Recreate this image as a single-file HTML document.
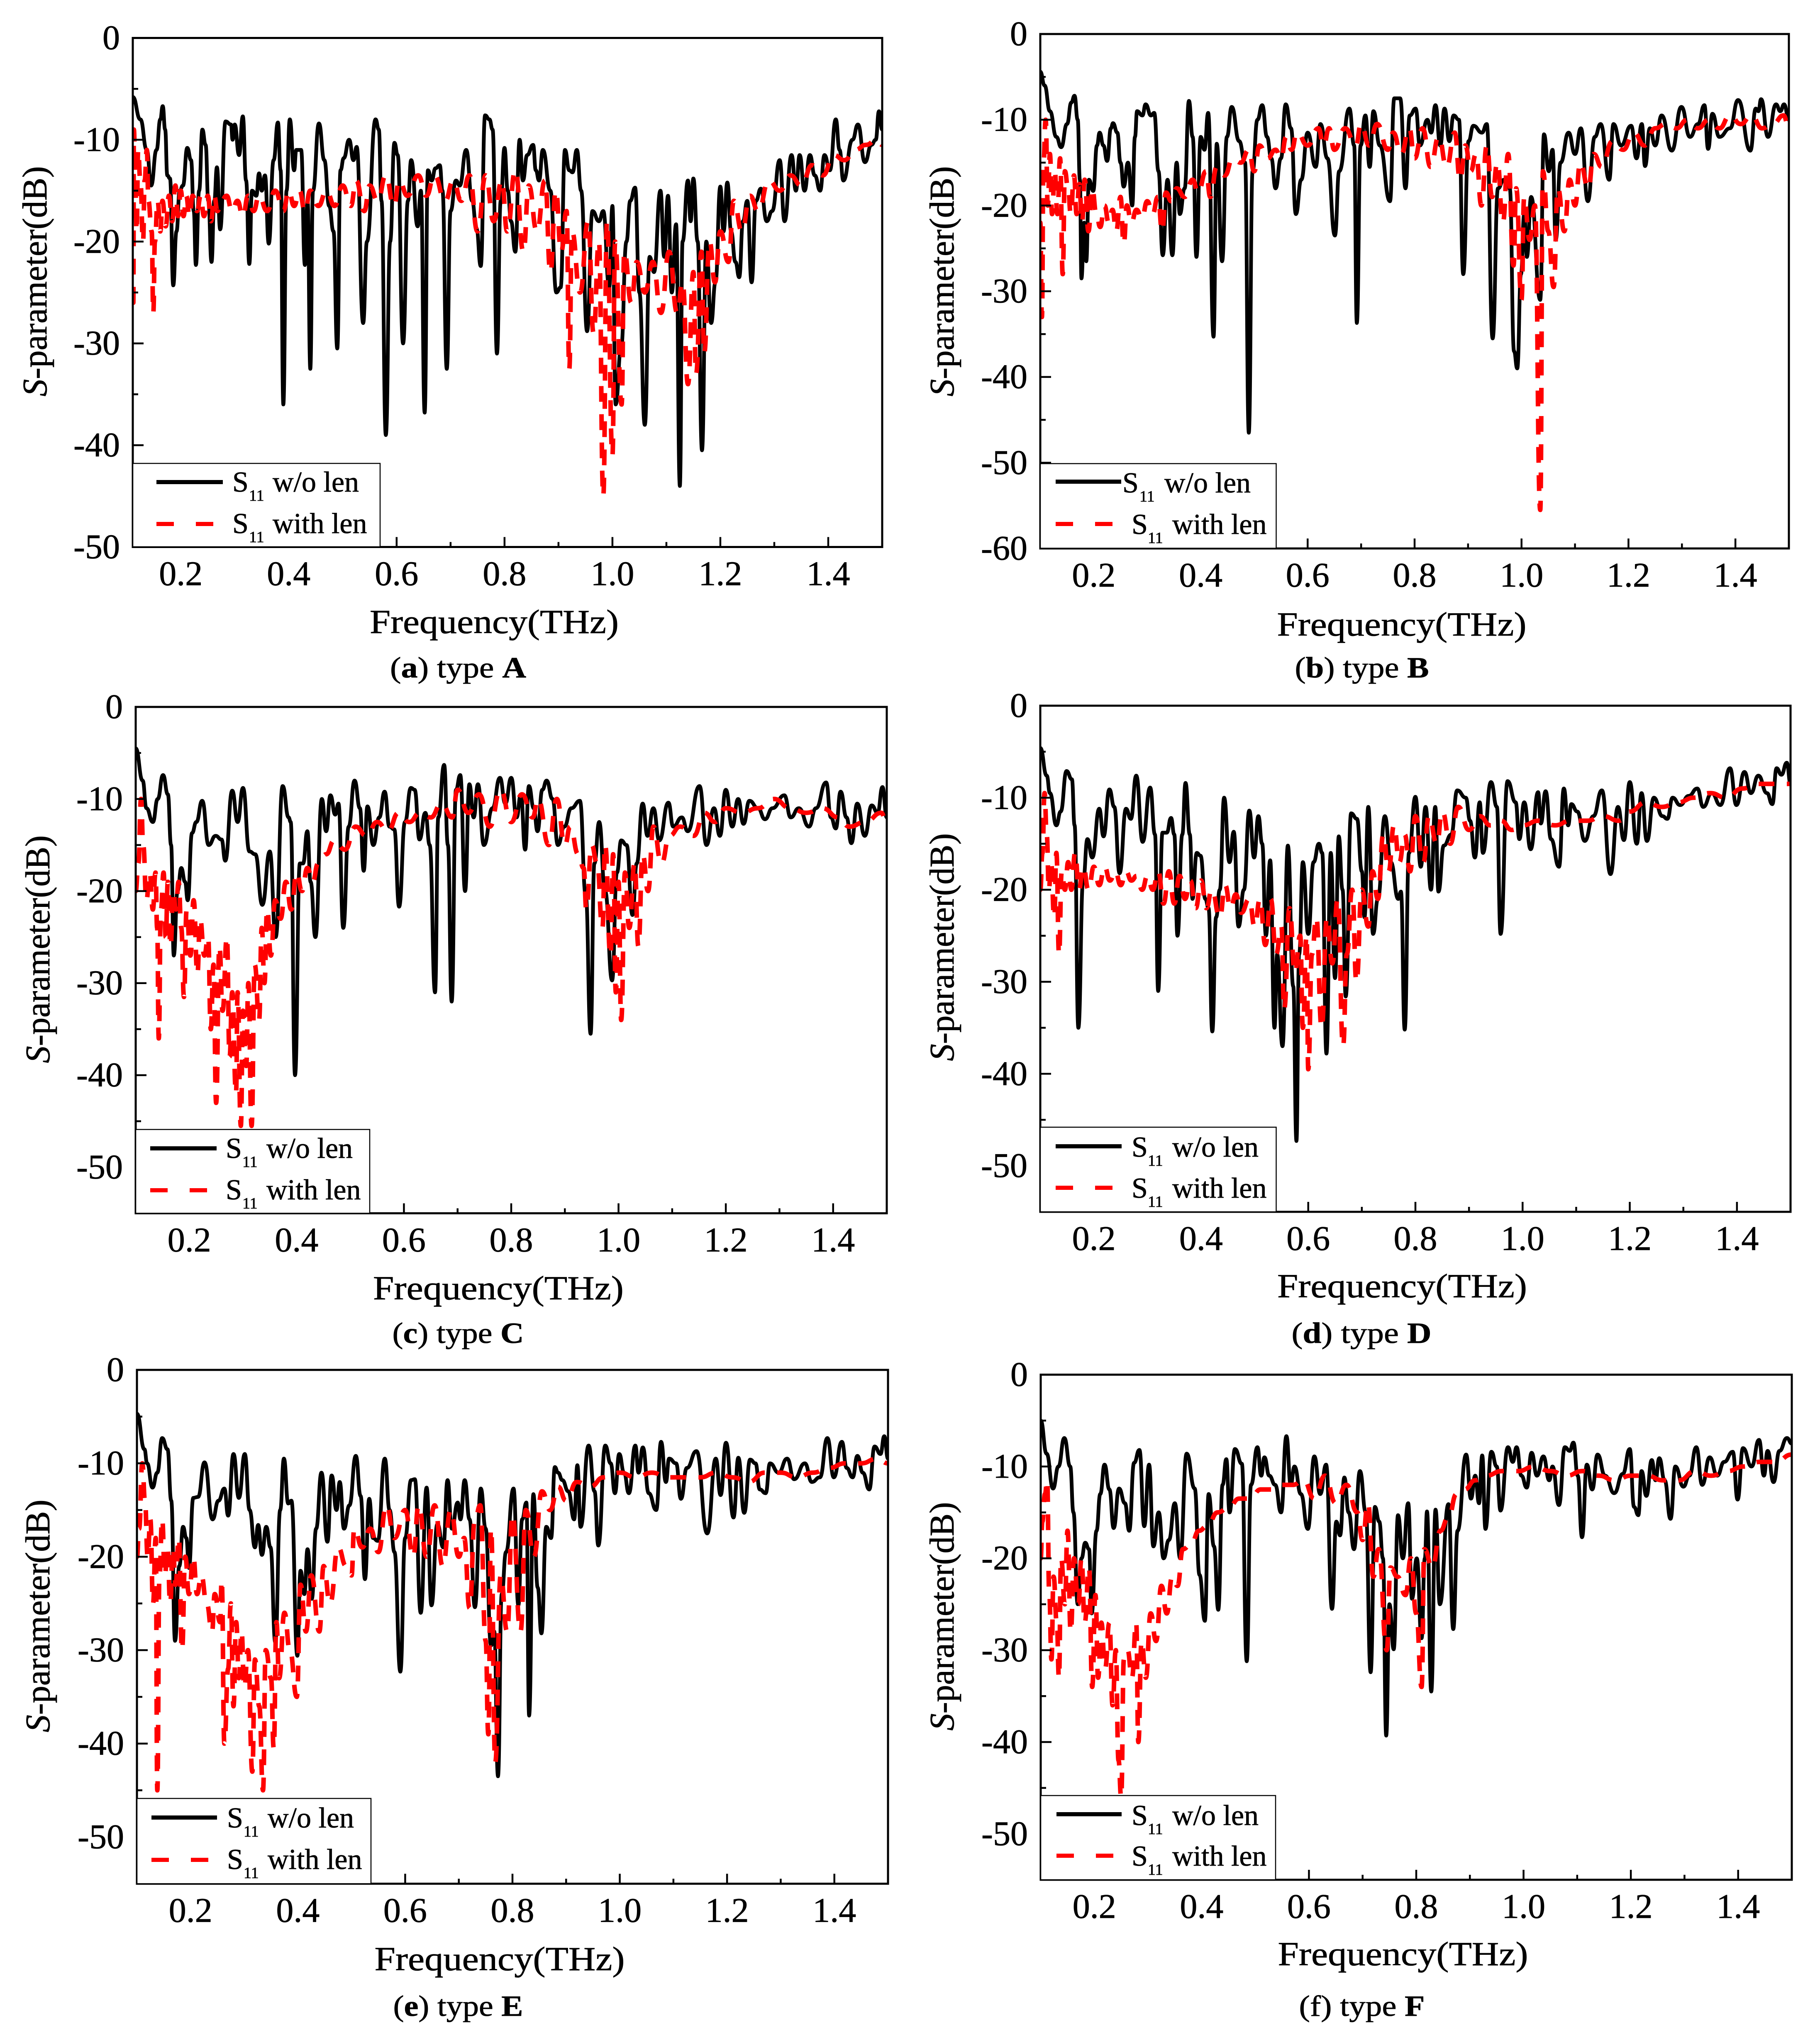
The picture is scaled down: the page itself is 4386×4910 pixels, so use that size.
<!DOCTYPE html>
<html lang="en">
<head>
<meta charset="utf-8">
<title>S-parameter comparison, types A to F</title>
<style>
html,body{margin:0;padding:0;background:#fff}
svg{display:block}
text{font-family:"Liberation Serif","Times New Roman",serif;fill:#000;stroke:#000;stroke-width:.8px}
.leg{font-size:70px}
.sub{font-size:38px}
.xt{font-size:82px}
.yt{font-size:84px}
.cap{font-size:71px}
.tick{font-size:84px}
</style>
</head>
<body>
<svg xmlns="http://www.w3.org/2000/svg" width="4386" height="4910" viewBox="0 0 4386 4910">
<rect width="4386" height="4910" fill="#fff"/>

<g>
<g id="plot-a"></g>
<g>
<rect x="320" y="1117" width="596" height="201" fill="#fff" stroke="#000" stroke-width="2.5"/>
<line x1="377" x2="537" y1="1162" y2="1162" stroke="#000" stroke-width="10"/>
<line x1="377" x2="514" y1="1263" y2="1263" stroke="#f00" stroke-width="10" stroke-dasharray="42 53"/>
<text class="leg" x="560" y="1185">S<tspan class="sub" x="600" y="1207">11</tspan><tspan x="657" y="1185">w/o len</tspan></text>
<text class="leg" x="560" y="1285">S<tspan class="sub" x="600" y="1307">11</tspan><tspan x="657" y="1285">with len</tspan></text>
</g>
<text class="yt" transform="translate(112,678) rotate(-90)" text-anchor="middle" textLength="555" lengthAdjust="spacingAndGlyphs"><tspan font-style="italic">S</tspan>-parameter(dB)</text>
<text class="xt" x="1191" y="1526" text-anchor="middle" textLength="600" lengthAdjust="spacingAndGlyphs">Frequency(THz)</text>
<text class="cap" x="1104" y="1633" text-anchor="middle" textLength="328" lengthAdjust="spacingAndGlyphs">(<tspan font-weight="bold">a</tspan>) type <tspan font-weight="bold">A</tspan></text>
</g>

<g>
<g id="plot-b"></g>
<g>
<rect x="2507" y="1117.5" width="568.5" height="204" fill="#fff" stroke="#000" stroke-width="2.5"/>
<line x1="2544" x2="2702" y1="1161" y2="1161" stroke="#000" stroke-width="10"/>
<line x1="2544" x2="2681" y1="1263" y2="1263" stroke="#f00" stroke-width="10" stroke-dasharray="42 53"/>
<text class="leg" x="2705" y="1187">S<tspan class="sub" x="2746" y="1209">11</tspan><tspan x="2806" y="1187">w/o len</tspan></text>
<text class="leg" x="2727" y="1287">S<tspan class="sub" x="2766" y="1309">11</tspan><tspan x="2825" y="1287">with len</tspan></text>
</g>
<text class="yt" transform="translate(2298,678) rotate(-90)" text-anchor="middle" textLength="555" lengthAdjust="spacingAndGlyphs"><tspan font-style="italic">S</tspan>-parameter(dB)</text>
<text class="xt" x="3378" y="1532" text-anchor="middle" textLength="601" lengthAdjust="spacingAndGlyphs">Frequency(THz)</text>
<text class="cap" x="3282" y="1633" text-anchor="middle" textLength="323" lengthAdjust="spacingAndGlyphs">(<tspan font-weight="bold">b</tspan>) type <tspan font-weight="bold">B</tspan></text>
</g>

<g>
<g id="plot-c"></g>
<g>
<rect x="327" y="2722.5" width="564" height="202" fill="#fff" stroke="#000" stroke-width="2.5"/>
<line x1="362" x2="522" y1="2768" y2="2768" stroke="#000" stroke-width="10"/>
<line x1="362" x2="499" y1="2869" y2="2869" stroke="#f00" stroke-width="10" stroke-dasharray="42 53"/>
<text class="leg" x="544" y="2791">S<tspan class="sub" x="584" y="2813">11</tspan><tspan x="642" y="2791">w/o len</tspan></text>
<text class="leg" x="544" y="2891">S<tspan class="sub" x="584" y="2913">11</tspan><tspan x="642" y="2891">with len</tspan></text>
</g>
<text class="yt" transform="translate(119,2288) rotate(-90)" text-anchor="middle" textLength="549" lengthAdjust="spacingAndGlyphs"><tspan font-style="italic">S</tspan>-parameter(dB)</text>
<text class="xt" x="1201" y="3132" text-anchor="middle" textLength="604" lengthAdjust="spacingAndGlyphs">Frequency(THz)</text>
<text class="cap" x="1104" y="3237" text-anchor="middle" textLength="317" lengthAdjust="spacingAndGlyphs">(<tspan font-weight="bold">c</tspan>) type <tspan font-weight="bold">C</tspan></text>
</g>

<g>
<g id="plot-d"></g>
<g>
<rect x="2507" y="2717" width="568.5" height="204" fill="#fff" stroke="#000" stroke-width="2.5"/>
<line x1="2544" x2="2703" y1="2763" y2="2763" stroke="#000" stroke-width="10"/>
<line x1="2544" x2="2681" y1="2863" y2="2863" stroke="#f00" stroke-width="10" stroke-dasharray="42 53"/>
<text class="leg" x="2727" y="2788">S<tspan class="sub" x="2766" y="2810">11</tspan><tspan x="2825" y="2788">w/o len</tspan></text>
<text class="leg" x="2727" y="2887">S<tspan class="sub" x="2766" y="2909">11</tspan><tspan x="2825" y="2887">with len</tspan></text>
</g>
<text class="yt" transform="translate(2298,2283) rotate(-90)" text-anchor="middle" textLength="549" lengthAdjust="spacingAndGlyphs"><tspan font-style="italic">S</tspan>-parameter(dB)</text>
<text class="xt" x="3379" y="3127" text-anchor="middle" textLength="602" lengthAdjust="spacingAndGlyphs">Frequency(THz)</text>
<text class="cap" x="3281" y="3237" text-anchor="middle" textLength="337" lengthAdjust="spacingAndGlyphs">(<tspan font-weight="bold">d</tspan>) type <tspan font-weight="bold">D</tspan></text>
</g>

<g>
<g id="plot-e"></g>
<g>
<rect x="330" y="4335" width="564" height="205.5" fill="#fff" stroke="#000" stroke-width="2.5"/>
<line x1="365" x2="523" y1="4381" y2="4381" stroke="#000" stroke-width="10"/>
<line x1="365" x2="502" y1="4483" y2="4483" stroke="#f00" stroke-width="10" stroke-dasharray="42 53"/>
<text class="leg" x="547" y="4405">S<tspan class="sub" x="587" y="4427">11</tspan><tspan x="645" y="4405">w/o len</tspan></text>
<text class="leg" x="547" y="4505">S<tspan class="sub" x="587" y="4527">11</tspan><tspan x="645" y="4505">with len</tspan></text>
</g>
<text class="yt" transform="translate(119,3895) rotate(-90)" text-anchor="middle" textLength="561" lengthAdjust="spacingAndGlyphs"><tspan font-style="italic">S</tspan>-parameter(dB)</text>
<text class="xt" x="1204" y="4749" text-anchor="middle" textLength="603" lengthAdjust="spacingAndGlyphs">Frequency(THz)</text>
<text class="cap" x="1104" y="4859" text-anchor="middle" textLength="313" lengthAdjust="spacingAndGlyphs">(<tspan font-weight="bold">e</tspan>) type <tspan font-weight="bold">E</tspan></text>
</g>

<g>
<g id="plot-f"></g>
<g>
<rect x="2508" y="4328" width="566" height="203" fill="#fff" stroke="#000" stroke-width="2.5"/>
<line x1="2546" x2="2703" y1="4373" y2="4373" stroke="#000" stroke-width="10"/>
<line x1="2546" x2="2683" y1="4473" y2="4473" stroke="#f00" stroke-width="10" stroke-dasharray="42 53"/>
<text class="leg" x="2727" y="4399">S<tspan class="sub" x="2766" y="4421">11</tspan><tspan x="2825" y="4399">w/o len</tspan></text>
<text class="leg" x="2727" y="4497">S<tspan class="sub" x="2766" y="4519">11</tspan><tspan x="2825" y="4497">with len</tspan></text>
</g>
<text class="yt" transform="translate(2298,3896) rotate(-90)" text-anchor="middle" textLength="551" lengthAdjust="spacingAndGlyphs"><tspan font-style="italic">S</tspan>-parameter(dB)</text>
<text class="xt" x="3381" y="4737" text-anchor="middle" textLength="603" lengthAdjust="spacingAndGlyphs">Frequency(THz)</text>
<text class="cap" x="3282" y="4859" text-anchor="middle" textLength="303" lengthAdjust="spacingAndGlyphs">(f) type <tspan font-weight="bold">F</tspan></text>
</g>
</svg>

<script>
// Axis values
const xMajorTicks = [0.2,0.4,0.6,0.8,1.0,1.2,1.4];
const xTickLabels = ['0.2','0.4','0.6','0.8','1.0','1.2','1.4'];
const xMinorTicks = [0.3,0.5,0.7,0.9,1.1,1.3];
const yMajorTicks50 = [0,-10,-20,-30,-40,-50];
const yMinorTicks50 = [-5,-15,-25,-35,-45];
const yMajorTicks60 = [0,-10,-20,-30,-40,-50,-60];
const yMinorTicks60 = [-5,-15,-25,-35,-45,-55];

// Readings as [frequency THz, S11 dB]
const typeANoLens = [[.111,-5.8],[.125,-8],[.137,-11],[.145,-14.5],[.155,-11],[.162,-8],[.1665,-6.7],[.171,-9],[.175,-13.5],[.18,-13.8],[.186,-24.3],[.192,-19],[.198,-15],[.204,-14.5],[.212,-10.8],[.219,-12],[.224,-17],[.228,-22.3],[.234,-15],[.24,-9],[.246,-10.5],[.251,-16],[.257,-22],[.262,-16],[.267,-12.7],[.273,-18.8],[.283,-8.2],[.293,-8.5],[.296,-10],[.3,-8.5],[.308,-11.5],[.315,-7.7],[.321,-14],[.327,-22.2],[.332,-15],[.34,-15.5],[.345,-13.3],[.35,-15],[.356,-13.5],[.363,-20.2],[.372,-12],[.38,-8.3],[.385,-13],[.39,-36],[.396,-15],[.402,-8],[.41,-13],[.414,-11],[.423,-11],[.43,-22.3],[.435,-16],[.44,-32.5],[.445,-15],[.456,-8.4],[.466,-12],[.475,-16.5],[.483,-19],[.49,-30.5],[.496,-13],[.502,-11.8],[.512,-10],[.52,-12],[.526,-10.7],[.538,-28],[.545,-20],[.561,-8],[.567,-9],[.572,-16],[.58,-39],[.588,-20],[.596,-10.3],[.602,-11.5],[.612,-30],[.621,-16],[.627,-12],[.639,-18.5],[.645,-15],[.652,-36.8],[.658,-13],[.665,-14],[.672,-12.8],[.68,-12.5],[.685,-15],[.693,-32.5],[.70,-17],[.71,-14],[.717,-14.5],[.729,-11],[.74,-16],[.748,-18.7],[.756,-22.4],[.764,-7.6],[.772,-8],[.778,-9],[.786,-31],[.793,-16],[.80,-10.8],[.806,-15],[.812,-18],[.82,-21],[.828,-10],[.834,-14],[.842,-11.5],[.853,-10.5],[.858,-13],[.864,-14],[.871,-11],[.885,-15],[.896,-25],[.904,-24.5],[.912,-11],[.92,-13],[.926,-13.2],[.934,-11],[.942,-15],[.953,-28.8],[.963,-17],[.975,-18],[.983,-17],[.994,-24.5],[1.0,-16.5],[1.006,-36],[1.016,-30.5],[1.026,-20],[1.033,-16],[1.042,-14.7],[1.05,-25],[1.06,-38],[1.069,-21.5],[1.077,-23],[1.089,-15],[1.096,-21.5],[1.103,-15.5],[1.11,-25],[1.118,-18.3],[1.125,-44],[1.13,-20],[1.14,-14],[1.145,-18],[1.15,-13.8],[1.158,-20],[1.166,-40.5],[1.174,-20],[1.183,-28],[1.191,-24],[1.2,-14.6],[1.206,-19],[1.213,-14.2],[1.22,-19],[1.228,-22],[1.235,-23.5],[1.242,-18],[1.25,-16],[1.258,-24],[1.266,-16],[1.275,-14.8],[1.286,-18],[1.296,-17],[1.31,-12],[1.319,-18],[1.332,-11.5],[1.34,-15],[1.347,-11.5],[1.356,-15],[1.366,-11.5],[1.375,-13.5],[1.385,-15],[1.393,-11.5],[1.403,-13],[1.414,-8],[1.421,-11],[1.428,-14],[1.445,-10],[1.455,-8.5],[1.468,-12.2],[1.48,-10.5],[1.488,-10],[1.494,-7.2],[1.5,-9]];
const typeAWithLens = [[.112,-26],[.113,-9],[.116,-15],[.118,-19],[.121,-11],[.125,-14],[.13,-20],[.133,-14],[.137,-11],[.14,-16],[.146,-19],[.149,-27],[.152,-20],[.157,-16],[.162,-19],[.166,-16],[.172,-18.5],[.178,-15.5],[.184,-18],[.19,-14.5],[.195,-17.5],[.2,-15],[.205,-17.5],[.21,-15.5],[.216,-17.5],[.222,-15.5],[.23,-17],[.237,-15.5],[.243,-17.5],[.25,-15.5],[.256,-18],[.262,-15.5],[.268,-17],[.275,-16],[.285,-15.5],[.295,-17],[.305,-16],[.315,-17.5],[.325,-15.5],[.335,-17],[.345,-15.5],[.36,-17],[.375,-15],[.39,-17],[.4,-15],[.41,-16.5],[.42,-15],[.43,-17],[.44,-15],[.455,-16.5],[.47,-15],[.485,-16.5],[.5,-14.5],[.515,-16.5],[.525,-14],[.54,-17],[.55,-14.5],[.565,-16],[.58,-13.5],[.595,-16.5],[.605,-14],[.62,-15.5],[.64,-13.5],[.655,-15.5],[.67,-13.5],[.69,-16],[.705,-14],[.72,-16],[.735,-13.5],[.75,-19],[.765,-13.5],[.78,-18],[.795,-14],[.805,-19],[.82,-13],[.835,-21],[.845,-14.5],[.86,-19],[.875,-14],[.885,-23],[.895,-15],[.905,-21],[.915,-17],[.92,-32.5],[.925,-19],[.94,-25],[.955,-18],[.965,-29],[.975,-20],[.983,-45],[.99,-18],[1,-41],[1.005,-20],[1.017,-36],[1.022,-21],[1.035,-26],[1.045,-22],[1.06,-25],[1.075,-22],[1.09,-27],[1.105,-21],[1.12,-27],[1.13,-24],[1.14,-34],[1.15,-23],[1.155,-33],[1.165,-21],[1.17,-31],[1.18,-20],[1.19,-24],[1.2,-19],[1.215,-22],[1.225,-16],[1.24,-19],[1.255,-15.5],[1.27,-17],[1.29,-14],[1.31,-15],[1.33,-13.5],[1.35,-14.5],[1.37,-12.5],[1.39,-13.5],[1.41,-11.5],[1.43,-12],[1.45,-11],[1.47,-10.5],[1.49,-10],[1.5,-10.5]];

const typeBNoLens = [[.1,-4.4],[.108,-6],[.118,-9],[.13,-12],[.139,-13.2],[.15,-10.5],[.158,-8],[.164,-7.2],[.17,-10],[.174,-17],[.177,-28.5],[.182,-22],[.186,-26.5],[.191,-17],[.199,-18.3],[.206,-13],[.211,-11.5],[.218,-13],[.225,-14.8],[.232,-11],[.236,-10.4],[.244,-11.5],[.25,-15],[.256,-17.8],[.264,-15],[.272,-20],[.277,-12],[.281,-9],[.291,-9.5],[.297,-8.2],[.307,-9.5],[.313,-9.2],[.321,-16],[.329,-25.8],[.338,-17],[.347,-25.8],[.355,-15],[.361,-21],[.37,-18],[.378,-7.8],[.385,-12],[.392,-26],[.4,-12],[.407,-13.5],[.414,-9.2],[.424,-35.3],[.43,-12.8],[.44,-26.5],[.449,-12],[.458,-8.5],[.472,-12.5],[.483,-15],[.49,-46.5],[.497,-16],[.506,-10],[.515,-8.3],[.524,-12],[.532,-14.5],[.54,-18],[.55,-14.5],[.559,-8.2],[.569,-11],[.578,-21],[.588,-17],[.6,-11.5],[.615,-15.5],[.624,-10.5],[.637,-14.5],[.651,-23.5],[.659,-16],[.678,-8.7],[.687,-13],[.692,-33.7],[.699,-13],[.708,-9.5],[.716,-15.5],[.723,-9],[.735,-13],[.754,-19.5],[.762,-7.5],[.773,-7.5],[.783,-18],[.791,-9.5],[.802,-8.7],[.81,-13],[.824,-10],[.831,-11.5],[.839,-8.3],[.848,-13],[.856,-8.7],[.865,-12.5],[.873,-9.5],[.883,-10],[.891,-28],[.901,-12.5],[.91,-10.7],[.926,-11.5],[.935,-10.5],[.946,-35.5],[.956,-18],[.967,-17],[.978,-18],[.986,-37],[.992,-39],[.999,-28],[1.005,-21],[1.01,-26],[1.018,-19],[1.035,-31],[1.042,-11.7],[1.051,-16],[1.058,-13.5],[1.064,-24],[1.073,-15],[1.088,-11.5],[1.1,-14],[1.111,-11],[1.124,-19.5],[1.137,-12],[1.148,-10.5],[1.164,-17],[1.172,-10.5],[1.186,-13],[1.205,-10.7],[1.215,-14.5],[1.225,-10.5],[1.231,-15.4],[1.24,-11],[1.25,-13],[1.262,-9.5],[1.281,-13.6],[1.299,-8.5],[1.315,-12],[1.33,-10.5],[1.342,-8.3],[1.349,-13.4],[1.357,-9.3],[1.37,-12],[1.39,-11],[1.405,-7.7],[1.428,-13.6],[1.438,-8.7],[1.443,-9],[1.448,-7.6],[1.461,-12],[1.476,-8.2],[1.484,-9],[1.491,-8.2],[1.5,-10]];
const typeBWithLens = [[.1,-22],[.103,-33],[.106,-15],[.11,-10],[.114,-20],[.118,-14],[.122,-21],[.127,-16],[.132,-21],[.137,-14.5],[.142,-28],[.146,-16],[.152,-18],[.157,-21],[.163,-16.5],[.168,-21],[.173,-17.5],[.178,-22],[.183,-17],[.19,-23],[.197,-18],[.205,-21],[.212,-22.5],[.22,-20],[.228,-22],[.235,-20.5],[.242,-23],[.25,-19],[.256,-24.5],[.262,-20],[.27,-22],[.28,-20.5],[.29,-21.5],[.3,-19.5],[.31,-21],[.32,-19],[.328,-23],[.335,-18.5],[.345,-19.5],[.355,-18],[.37,-19],[.385,-17],[.395,-18.5],[.41,-16],[.418,-19],[.43,-15.5],[.445,-16.5],[.46,-14.5],[.475,-15],[.49,-13.5],[.5,-16],[.51,-13],[.525,-14.5],[.54,-13.5],[.55,-14.5],[.56,-12],[.57,-13.5],[.58,-11.5],[.6,-13],[.62,-11],[.63,-13],[.64,-11],[.65,-13.5],[.67,-11],[.69,-13],[.7,-10.5],[.715,-13],[.73,-10.5],[.75,-13.5],[.76,-11.5],[.775,-14],[.79,-11],[.8,-14.5],[.815,-11],[.83,-15.5],[.845,-12],[.86,-15.5],[.875,-11.5],[.885,-17],[.895,-13],[.905,-16],[.915,-14],[.925,-20],[.935,-13],[.945,-19],[.955,-15],[.965,-22],[.975,-14],[.985,-27],[.99,-18],[1,-31],[1.005,-19],[1.015,-24],[1.025,-20],[1.035,-55.5],[1.04,-16],[1.05,-23],[1.06,-29.5],[1.068,-18],[1.08,-23],[1.09,-17],[1.1,-20],[1.11,-15],[1.125,-18],[1.135,-14],[1.15,-15.5],[1.17,-12.5],[1.19,-13.5],[1.21,-11.5],[1.23,-13],[1.25,-11],[1.27,-10.5],[1.29,-11],[1.31,-10],[1.33,-11],[1.35,-10],[1.37,-11],[1.39,-9.5],[1.41,-10.5],[1.43,-9.5],[1.45,-11],[1.47,-10.5],[1.49,-9.5],[1.5,-11]];

const typeCNoLens = [[.1,-4.5],[.113,-8],[.12,-11],[.132,-12.5],[.141,-10],[.151,-7.4],[.16,-9.5],[.166,-15],[.171,-27],[.178,-20],[.185,-17.5],[.192,-19],[.197,-21],[.205,-13.7],[.213,-12.5],[.224,-10.2],[.236,-15],[.249,-14],[.26,-14.4],[.267,-16.7],[.28,-9.1],[.29,-12.5],[.3,-8.8],[.312,-15.7],[.323,-16],[.336,-21.5],[.35,-15.7],[.361,-25],[.374,-8.6],[.385,-12],[.389,-12.5],[.397,-40],[.406,-17],[.412,-17],[.42,-13.5],[.426,-19],[.435,-25],[.447,-10],[.455,-13.5],[.463,-9.6],[.472,-11.7],[.478,-10.5],[.487,-24],[.497,-13],[.508,-8],[.518,-11],[.525,-17.8],[.532,-10.8],[.543,-15],[.554,-12],[.564,-9.2],[.573,-13],[.582,-13.3],[.591,-21.7],[.602,-12.5],[.613,-8.8],[.62,-9],[.629,-14.4],[.64,-11.5],[.648,-15],[.658,-31],[.664,-12],[.675,-6.3],[.682,-15],[.689,-32],[.697,-9],[.705,-7.4],[.714,-20],[.722,-8.4],[.73,-12],[.738,-8.4],[.749,-15],[.765,-11],[.779,-7.7],[.789,-10.5],[.8,-7.7],[.81,-12],[.818,-9.5],[.826,-15.5],[.833,-8.6],[.842,-11],[.849,-13.5],[.858,-9],[.866,-8],[.877,-10],[.887,-15],[.899,-13],[.912,-11],[.928,-10.2],[.939,-20.5],[.948,-35.5],[.955,-17],[.964,-12.5],[.975,-20],[.988,-29.7],[.997,-18],[1.005,-14.5],[1.015,-15],[1.026,-22.6],[1.034,-17],[1.045,-10.5],[1.054,-14],[1.065,-11],[1.076,-14.5],[1.093,-10.4],[1.102,-13],[1.118,-12],[1.129,-13.5],[1.151,-8.6],[1.164,-15],[1.178,-11],[1.189,-14],[1.2,-9],[1.212,-13],[1.223,-10],[1.233,-12.7],[1.244,-10.2],[1.26,-11],[1.273,-12.2],[1.287,-11],[1.309,-9.6],[1.321,-12],[1.336,-11],[1.355,-13],[1.368,-11],[1.387,-8.2],[1.396,-12],[1.405,-13.2],[1.414,-9.2],[1.425,-12],[1.434,-14.8],[1.445,-10.5],[1.459,-14],[1.472,-10.7],[1.483,-11.5],[1.492,-8.7],[1.5,-12]];
const typeCWithLens = [[.1,-20],[.105,-17],[.11,-10],[.114,-15],[.12,-21],[.126,-18],[.132,-22],[.137,-18],[.14,-24],[.143,-36],[.147,-22],[.152,-18],[.156,-25],[.16,-19],[.165,-26],[.17,-20],[.175,-22],[.18,-19],[.185,-24],[.19,-31.5],[.195,-22],[.202,-27],[.208,-21],[.215,-29],[.22,-23],[.228,-27],[.235,-25],[.24,-35],[.245,-28],[.25,-43],[.256,-26],[.262,-33],[.27,-25],[.275,-38],[.28,-31],[.287,-42],[.29,-31],[.296,-45.5],[.3,-33],[.306,-39],[.31,-30],[.316,-45.5],[.322,-28],[.33,-34],[.335,-24],[.34,-30],[.345,-22],[.352,-27],[.36,-21],[.37,-23],[.38,-19],[.39,-22],[.4,-18],[.41,-20],[.42,-17.5],[.43,-19],[.44,-17],[.455,-16],[.47,-14.5],[.49,-15.5],[.51,-13],[.53,-14],[.55,-12.5],[.57,-13.5],[.59,-11.5],[.61,-12.5],[.63,-11.5],[.65,-12],[.67,-10.5],[.69,-12],[.7,-9],[.72,-11.5],[.74,-9.5],[.76,-13],[.78,-9],[.8,-12.5],[.82,-9.5],[.84,-12],[.85,-10],[.87,-15],[.885,-10],[.9,-15],[.91,-13],[.925,-16],[.935,-17.5],[.94,-22],[.95,-15],[.96,-17],[.97,-24],[.975,-15],[.985,-27],[.99,-16],[.995,-31],[1,-19],[1.005,-34],[1.012,-18],[1.02,-24],[1.03,-17],[1.037,-26],[1.045,-16],[1.055,-20],[1.065,-13],[1.08,-17],[1.095,-14],[1.115,-13],[1.14,-14],[1.16,-11.5],[1.18,-12.5],[1.2,-11],[1.23,-11.5],[1.26,-11],[1.29,-10],[1.32,-11],[1.35,-11.5],[1.38,-11],[1.41,-12],[1.43,-13],[1.46,-12.5],[1.49,-11.5],[1.5,-13]];

const typeDNoLens = [[.1,-4.6],[.112,-7.6],[.118,-9.5],[.13,-13],[.138,-11.5],[.149,-7.1],[.159,-8],[.164,-13],[.171,-35],[.18,-19],[.188,-14.5],[.197,-16.5],[.21,-11.2],[.218,-14.2],[.229,-9.1],[.238,-11],[.248,-18.2],[.26,-11.2],[.269,-12.3],[.279,-7.6],[.291,-14.8],[.305,-8.9],[.314,-14],[.32,-31],[.328,-13.8],[.336,-13.8],[.344,-12.2],[.35,-14],[.356,-25],[.365,-14],[.371,-8.4],[.379,-14],[.384,-21],[.392,-16],[.399,-16.3],[.408,-21],[.414,-22],[.421,-35.4],[.428,-23],[.435,-20],[.443,-10],[.453,-17],[.461,-13.7],[.47,-24],[.48,-20],[.49,-11.4],[.499,-16.5],[.507,-12],[.514,-15],[.521,-25],[.529,-16.8],[.537,-35],[.542,-27],[.552,-37],[.562,-15.2],[.572,-30.5],[.578,-47.3],[.583,-27],[.59,-17],[.6,-24.8],[.61,-17],[.62,-15],[.626,-16],[.634,-37.8],[.642,-16],[.65,-29.6],[.657,-14.2],[.664,-20],[.67,-31.6],[.68,-11.7],[.691,-12.3],[.7,-18],[.705,-23],[.712,-11],[.721,-24.8],[.73,-21],[.743,-12],[.754,-17],[.768,-21],[.773,-20.2],[.78,-35.2],[.788,-16],[.8,-9.9],[.81,-17.5],[.819,-11],[.829,-20],[.837,-11],[.843,-20.2],[.853,-15.2],[.867,-14],[.878,-9.2],[.894,-10],[.902,-12.5],[.911,-16.5],[.92,-10.5],[.926,-16],[.941,-8.3],[.952,-11],[.959,-24.8],[.972,-8.2],[.987,-10.5],[.994,-14.5],[1.003,-10.5],[1.015,-15.6],[1.029,-9.4],[1.034,-12.8],[1.043,-9.3],[1.053,-14.5],[1.068,-17.5],[1.077,-9],[1.085,-13],[1.091,-10.7],[1.102,-11.5],[1.116,-14.7],[1.132,-12],[1.148,-9.2],[1.164,-18.3],[1.178,-11],[1.189,-14.6],[1.2,-8.3],[1.213,-15],[1.222,-9.5],[1.232,-14.7],[1.245,-10],[1.261,-12],[1.27,-12.3],[1.28,-10],[1.294,-10.8],[1.31,-9.8],[1.326,-9],[1.337,-11],[1.353,-9.5],[1.369,-10.8],[1.387,-6.8],[1.399,-10.8],[1.414,-7.2],[1.426,-9.5],[1.44,-7.6],[1.456,-9.5],[1.466,-10.7],[1.474,-6.8],[1.483,-7.5],[1.493,-6.2],[1.5,-8.5]];
const typeDWithLens = [[.1,-20],[.104,-16],[.108,-9.5],[.112,-14],[.116,-20],[.12,-17],[.126,-23],[.13,-16],[.135,-27],[.14,-18],[.146,-20],[.152,-17],[.158,-20],[.165,-16],[.172,-20],[.18,-17.5],[.19,-20],[.2,-17.5],[.21,-19.5],[.22,-17.5],[.23,-19],[.24,-18],[.25,-19.5],[.26,-18],[.27,-19],[.28,-18.5],[.29,-20],[.3,-18.5],[.31,-20],[.32,-18],[.33,-21.5],[.34,-18],[.35,-21.5],[.36,-18.5],[.37,-21],[.38,-19],[.39,-22],[.4,-19],[.41,-22],[.42,-20],[.435,-23],[.445,-19.5],[.455,-22],[.465,-20.5],[.475,-22.5],[.49,-21],[.5,-24],[.51,-21],[.52,-26],[.53,-21],[.54,-27],[.55,-24],[.555,-33],[.565,-22],[.575,-29],[.585,-25],[.59,-35],[.597,-25],[.6,-39.5],[.607,-27],[.615,-23],[.625,-35],[.635,-23],[.645,-28],[.655,-21],[.665,-37],[.672,-27],[.682,-20],[.69,-30],[.7,-20],[.712,-24],[.72,-18],[.73,-21],[.74,-14],[.75,-18],[.76,-13],[.77,-17],[.78,-14],[.79,-18],[.8,-12],[.815,-17],[.825,-12],[.84,-15],[.85,-11.5],[.865,-15],[.88,-11],[.9,-13.5],[.92,-12],[.94,-13],[.96,-12.5],[.98,-13.5],[1,-13],[1.03,-12.5],[1.06,-13],[1.09,-12.5],[1.12,-12.5],[1.15,-12],[1.18,-12.5],[1.2,-11.5],[1.23,-10.5],[1.26,-11],[1.29,-10.5],[1.32,-10],[1.35,-9.5],[1.38,-10],[1.41,-9],[1.44,-8.5],[1.47,-8.5],[1.5,-8.5]];

const typeENoLens = [[.1,-4.7],[.114,-8.5],[.119,-10],[.129,-12.6],[.138,-11],[.147,-7.3],[.157,-8.5],[.164,-14],[.171,-29],[.179,-21],[.186,-16.8],[.192,-18],[.197,-21.2],[.205,-13.7],[.214,-13.6],[.226,-9.9],[.241,-16],[.252,-14],[.263,-12.7],[.27,-15.6],[.28,-9],[.29,-13.7],[.301,-9],[.31,-15],[.32,-19],[.326,-16.6],[.333,-19.8],[.341,-16.8],[.349,-19],[.358,-29.2],[.367,-15],[.374,-9.5],[.382,-14.3],[.388,-14],[.399,-30.6],[.405,-21.5],[.412,-24],[.418,-19.2],[.426,-24.5],[.434,-17],[.444,-11],[.455,-18.4],[.463,-11.3],[.472,-15],[.478,-12],[.486,-17],[.496,-14.5],[.508,-9.2],[.517,-13.5],[.525,-22.4],[.533,-13.8],[.54,-18],[.549,-18.3],[.562,-9.5],[.571,-15],[.58,-19.5],[.591,-32.3],[.6,-18],[.611,-11.8],[.618,-11.7],[.629,-26],[.64,-12.6],[.649,-25.2],[.66,-16.5],[.671,-19],[.679,-11.8],[.687,-17],[.698,-14.2],[.703,-16],[.711,-11.8],[.72,-16],[.73,-25.4],[.741,-12.7],[.75,-17],[.76,-29.5],[.766,-28],[.773,-43.5],[.78,-24],[.788,-19.5],[.802,-12.7],[.811,-25.2],[.818,-16],[.826,-14.2],[.831,-37],[.839,-13.3],[.847,-23.3],[.854,-28.2],[.863,-16.8],[.872,-18],[.879,-10.4],[.885,-11],[.893,-11.8],[.904,-13],[.915,-16],[.921,-10.2],[.927,-16.8],[.942,-8.1],[.953,-13],[.96,-18.8],[.973,-8.1],[.983,-10],[.991,-13.2],[.999,-9],[1.008,-11],[1.017,-13.2],[1.029,-8.1],[1.035,-11],[1.043,-8.3],[1.054,-13.2],[1.068,-15],[1.077,-7.7],[1.086,-12],[1.092,-9.5],[1.105,-10],[1.114,-13.8],[1.125,-10.5],[1.143,-8.7],[1.163,-17.5],[1.179,-9.5],[1.188,-13.4],[1.198,-7.8],[1.212,-15.8],[1.221,-9.4],[1.232,-15.3],[1.243,-9.6],[1.253,-10],[1.261,-12.8],[1.272,-13.2],[1.28,-10],[1.296,-11],[1.312,-9.5],[1.325,-11.7],[1.345,-10],[1.358,-12],[1.373,-11.5],[1.387,-7.3],[1.399,-11.5],[1.414,-7.7],[1.423,-10.5],[1.434,-11.5],[1.443,-9.2],[1.453,-11],[1.465,-12.8],[1.475,-8.2],[1.486,-9],[1.493,-7.1],[1.5,-9.5]];
const typeEWithLens = [[.1,-20],[.104,-17],[.11,-10],[.115,-14],[.12,-20],[.125,-16],[.13,-25],[.135,-18],[.138,-45],[.142,-22],[.147,-16],[.152,-22],[.157,-19],[.162,-25],[.167,-19],[.172,-23],[.178,-18],[.184,-30],[.19,-20],[.197,-24],[.205,-20],[.212,-24],[.22,-22],[.23,-25],[.24,-28],[.245,-24],[.255,-27],[.258,-22.5],[.263,-40],[.27,-32],[.275,-25],[.28,-36],[.285,-27],[.29,-33],[.295,-28],[.3,-34],[.307,-30],[.315,-43],[.32,-31],[.328,-36],[.335,-45],[.34,-30],[.35,-33],[.355,-40.5],[.36,-27],[.365,-33],[.375,-26],[.385,-30],[.398,-35],[.405,-23],[.415,-28],[.425,-22],[.44,-28],[.448,-21],[.46,-25],[.475,-19],[.49,-21],[.5,-22],[.505,-17],[.52,-19],[.535,-17],[.55,-19.5],[.565,-14.5],[.58,-18],[.6,-15],[.615,-20],[.625,-14.5],[.64,-20],[.655,-14.5],[.67,-21],[.685,-15],[.7,-20],[.71,-18],[.72,-25.5],[.73,-16],[.74,-14.5],[.75,-29],[.755,-39],[.76,-17],[.768,-42],[.778,-22],[.79,-28],[.8,-15.5],[.815,-28],[.825,-15],[.84,-20],[.855,-13],[.87,-15],[.885,-12.5],[.9,-14],[.92,-12],[.945,-12.5],[.97,-11.5],[1,-11],[1.03,-11.5],[1.06,-11],[1.09,-11.5],[1.12,-11.5],[1.15,-11.5],[1.18,-11],[1.21,-11.5],[1.24,-12],[1.27,-11],[1.3,-11],[1.33,-11.5],[1.36,-11],[1.39,-10.5],[1.42,-10],[1.45,-10],[1.48,-9.5],[1.5,-10]];

const typeFNoLens = [[.1,-5],[.111,-8.6],[.123,-12.4],[.133,-10],[.144,-6.9],[.155,-10],[.161,-15],[.169,-25],[.176,-20],[.183,-18.3],[.19,-19],[.195,-26],[.204,-17],[.211,-13],[.219,-9.8],[.228,-12.5],[.236,-16.7],[.246,-12.4],[.257,-14],[.265,-17],[.274,-9.6],[.284,-8.2],[.293,-16.5],[.302,-9.8],[.31,-18.7],[.32,-15],[.329,-20],[.339,-18],[.35,-14],[.36,-20],[.372,-8.6],[.387,-12.4],[.396,-21.8],[.406,-26.8],[.413,-13],[.423,-18.7],[.431,-25.6],[.439,-12],[.446,-9.2],[.452,-15],[.462,-8.1],[.475,-9.7],[.484,-31.2],[.492,-12],[.504,-7.9],[.511,-11],[.517,-9],[.526,-11],[.537,-12],[.548,-15],[.558,-6.7],[.566,-12],[.573,-10],[.585,-13],[.598,-16.8],[.61,-8.9],[.621,-13],[.632,-9.8],[.643,-25.5],[.651,-16],[.658,-17.5],[.666,-11.2],[.674,-15],[.684,-19],[.695,-10.5],[.706,-15],[.715,-32.4],[.723,-14.4],[.731,-16],[.738,-20],[.744,-39.3],[.75,-25],[.758,-29.9],[.766,-15.3],[.775,-20],[.785,-14],[.792,-24.4],[.801,-20],[.81,-28.7],[.816,-20],[.82,-14.9],[.828,-34.5],[.836,-14.7],[.844,-25],[.86,-14.1],[.869,-27.7],[.877,-17],[.893,-8.7],[.902,-13.5],[.91,-11],[.917,-14],[.923,-8.8],[.929,-16.8],[.94,-8.4],[.95,-10],[.957,-14.8],[.971,-7.9],[.98,-9.5],[.987,-7.9],[.996,-11],[1.006,-12.3],[1.015,-8.5],[1.025,-11],[1.037,-8.9],[1.048,-11.5],[1.054,-10],[1.066,-14.2],[1.077,-7.9],[1.086,-8.3],[1.093,-7.4],[1.101,-11],[1.109,-17.7],[1.118,-9.8],[1.128,-12.5],[1.138,-8.7],[1.152,-11],[1.169,-12.9],[1.185,-10.8],[1.198,-8.1],[1.206,-14.4],[1.214,-15.3],[1.22,-10.5],[1.229,-13.2],[1.239,-9.3],[1.246,-11.5],[1.253,-9.1],[1.263,-11.5],[1.274,-15.7],[1.283,-10],[1.298,-12.2],[1.309,-11],[1.322,-7.9],[1.333,-12],[1.347,-9],[1.361,-11],[1.374,-9.5],[1.39,-8.4],[1.399,-13.6],[1.409,-8],[1.425,-10],[1.439,-7.1],[1.448,-11],[1.455,-8.3],[1.466,-11.7],[1.477,-8.3],[1.491,-6.9],[1.5,-7.5]];
const typeFWithLens = [[.1,-20],[.103,-16],[.108,-13],[.112,-11.5],[.116,-24],[.12,-31],[.124,-22],[.13,-27],[.134,-33],[.138,-20],[.145,-25],[.15,-17],[.156,-28],[.162,-20],[.17,-25],[.176,-20],[.182,-27],[.19,-21],[.196,-34],[.202,-24],[.207,-33],[.213,-27],[.22,-32],[.228,-27],[.234,-36],[.24,-30],[.245,-42],[.25,-46],[.255,-31],[.262,-30],[.27,-33],[.278,-27],[.282,-40],[.288,-29],[.296,-33],[.305,-26],[.315,-29],[.325,-23],[.335,-26],[.345,-22],[.355,-23],[.365,-19],[.38,-18.5],[.395,-17],[.41,-16.5],[.43,-15],[.45,-14.5],[.47,-13.5],[.49,-13.5],[.51,-12.5],[.53,-12.5],[.55,-12],[.57,-12],[.59,-11.5],[.61,-13.5],[.63,-11],[.65,-14],[.67,-12],[.69,-15],[.7,-18],[.71,-14],[.72,-22],[.73,-19],[.745,-30],[.752,-21],[.765,-22],[.78,-24],[.79,-20],[.8,-26],[.81,-34],[.815,-19],[.83,-21],[.845,-17],[.86,-15.5],[.875,-13],[.89,-12.5],[.91,-11.5],[.93,-11],[.96,-10.5],[.99,-10.5],[1.02,-10],[1.05,-10.5],[1.08,-11],[1.11,-10.5],[1.14,-11],[1.17,-11.5],[1.2,-11],[1.23,-11],[1.26,-11.5],[1.29,-11.5],[1.32,-10.5],[1.35,-11],[1.38,-10.5],[1.41,-10],[1.44,-9.5],[1.47,-9.5],[1.5,-8.7]];

// Panel layout
const panels = [
  {id:'a',left:320,right:2126,top:91.5,bottom:1318.5,xMin:.111,xMax:1.5,yMin:-50,major:yMajorTicks50,minor:yMinorTicks50,black:typeANoLens,red:typeAWithLens},
  {id:'b',left:2507,right:4311,top:82,bottom:1322,xMin:.1,xMax:1.5,yMin:-60,major:yMajorTicks60,minor:yMinorTicks60,black:typeBNoLens,red:typeBWithLens},
  {id:'c',left:327,right:2137,top:1704,bottom:2924.5,xMin:.1,xMax:1.5,yMin:-55,major:yMajorTicks50,minor:yMinorTicks50,black:typeCNoLens,red:typeCWithLens},
  {id:'d',left:2507,right:4315,top:1701,bottom:2921,xMin:.1,xMax:1.5,yMin:-55,major:yMajorTicks50,minor:yMinorTicks50,black:typeDNoLens,red:typeDWithLens},
  {id:'e',left:330,right:2140,top:3302,bottom:4540.5,xMin:.1,xMax:1.5,yMin:-55,major:yMajorTicks50,minor:yMinorTicks50,black:typeENoLens,red:typeEWithLens},
  {id:'f',left:2508,right:4318,top:3313.5,bottom:4531,xMin:.1,xMax:1.5,yMin:-55,major:yMajorTicks50,minor:yMinorTicks50,black:typeFNoLens,red:typeFWithLens}
];

const NS = 'http://www.w3.org/2000/svg';
function xScale(p, f){ return p.left + (f - p.xMin) / (p.xMax - p.xMin) * (p.right - p.left); }
function yScale(p, db){ return p.top + (0 - db) / (0 - p.yMin) * (p.bottom - p.top); }
function pathFrom(p, series){
  let d = '';
  series.forEach(function(pt, i){
    const x = xScale(p, pt[0]);
    const y = yScale(p, pt[1]);
    if (i === 0) {
      d += 'M' + x.toFixed(1) + ' ' + y.toFixed(1);
    } else {
      const px = xScale(p, series[i-1][0]);
      const py = yScale(p, series[i-1][1]);
      const mx = (px + x) / 2;
      d += 'C' + mx.toFixed(1) + ' ' + py.toFixed(1) + ' ' + mx.toFixed(1) + ' ' + y.toFixed(1) + ' ' + x.toFixed(1) + ' ' + y.toFixed(1);
    }
  });
  return d;
}
function tickLine(g, x1, y1, x2, y2){
  const el = document.createElementNS(NS, 'line');
  
  
  el.setAttribute('x1', x1); el.setAttribute('y1', y1);
  el.setAttribute('x2', x2); el.setAttribute('y2', y2);
  el.setAttribute('stroke', '#000');
  el.setAttribute('stroke-width', '4.5');
  g.appendChild(el);
}
function tickText(g, x, y, anchor, str){
  const el = document.createElementNS(NS, 'text');
  
  
  el.setAttribute('class', 'tick');
  el.setAttribute('x', x); el.setAttribute('y', y);
  el.setAttribute('text-anchor', anchor);
  el.textContent = str;
  g.appendChild(el);
}
function drawPanel(p){
  const g = document.getElementById('plot-' + p.id);
  const clip = document.createElementNS(NS, 'clipPath');
  clip.setAttribute('id', 'clip-' + p.id);
  const cr = document.createElementNS(NS, 'rect');
  cr.setAttribute('x', p.left); cr.setAttribute('y', p.top);
  cr.setAttribute('width', p.right - p.left); cr.setAttribute('height', p.bottom - p.top);
  clip.appendChild(cr);
  g.appendChild(clip);

  const black = document.createElementNS(NS, 'path');
  
  
  black.setAttribute('d', pathFrom(p, p.black));
  black.setAttribute('fill', 'none');
  black.setAttribute('stroke', '#000');
  black.setAttribute('stroke-width', '9');
  black.setAttribute('stroke-linejoin', 'round');
  black.setAttribute('clip-path', 'url(#clip-' + p.id + ')');
  g.appendChild(black);

  const red = document.createElementNS(NS, 'path');
  
  
  red.setAttribute('d', pathFrom(p, p.red));
  red.setAttribute('fill', 'none');
  red.setAttribute('stroke', '#f00');
  red.setAttribute('stroke-width', '11');
  red.setAttribute('stroke-dasharray', '38 30');
  red.setAttribute('stroke-linejoin', 'round');
  red.setAttribute('clip-path', 'url(#clip-' + p.id + ')');
  g.appendChild(red);

  xMajorTicks.forEach(function(f, i){
    const x = xScale(p, f);
    tickLine(g, x, p.bottom, x, p.bottom - 24);
    tickText(g, x, p.bottom + 92, 'middle', xTickLabels[i]);
  });
  xMinorTicks.forEach(function(f){
    const x = xScale(p, f);
    tickLine(g, x, p.bottom, x, p.bottom - 12);
  });
  p.major.forEach(function(v){
    const y = yScale(p, v);
    tickLine(g, p.left, y, p.left + 26, y);
    tickText(g, p.left - 31, y + 27, 'end', String(v));
  });
  p.minor.forEach(function(v){
    const y = yScale(p, v);
    tickLine(g, p.left, y, p.left + 13, y);
  });

  const frame = document.createElementNS(NS, 'rect');
  
  
  frame.setAttribute('x', p.left); frame.setAttribute('y', p.top);
  frame.setAttribute('width', p.right - p.left); frame.setAttribute('height', p.bottom - p.top);
  frame.setAttribute('fill', 'none');
  frame.setAttribute('stroke', '#000');
  frame.setAttribute('stroke-width', '5');
  g.appendChild(frame);
}
panels.forEach(drawPanel);
</script>
</body>
</html>
